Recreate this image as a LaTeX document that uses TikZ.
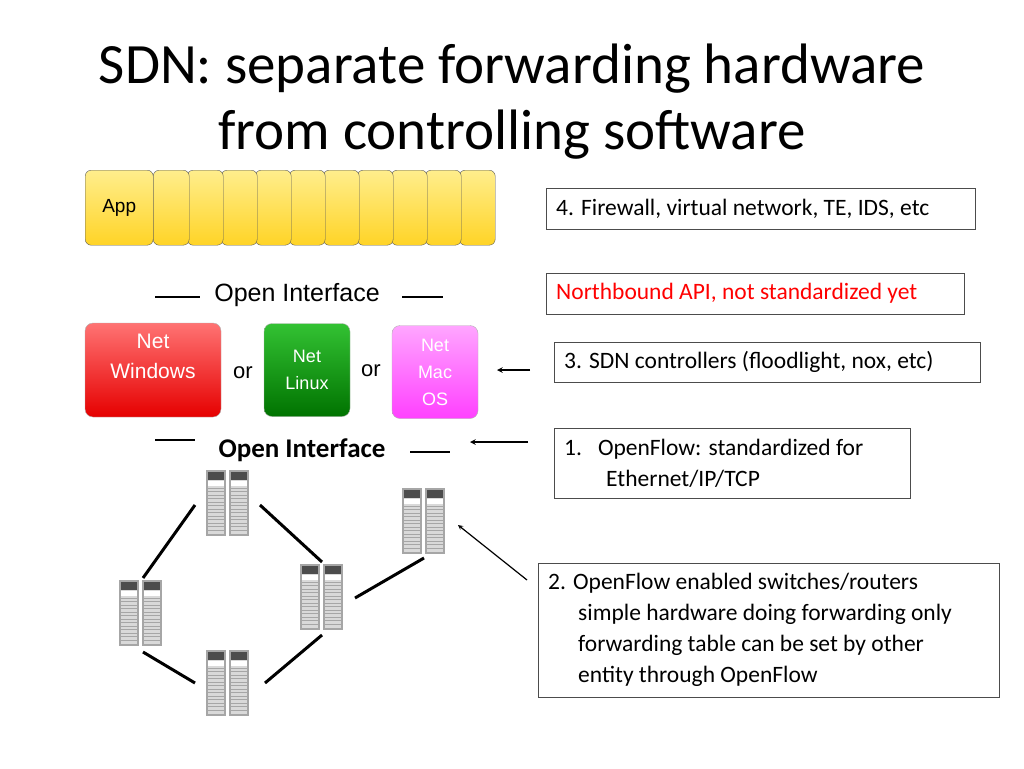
\documentclass[tikz,border=0pt]{standalone}
\usepackage{fontspec}
\setmainfont{Carlito}
\newfontfamily\arialf{Liberation Sans}
\begin{document}
\begin{tikzpicture}[x=1pt,y=-1pt,
  app/.style={draw=gray!70!black,rounded corners=6pt,top color=yellow!70!orange!45,bottom color=yellow!60!orange!85,minimum height=75pt,anchor=north west,inner sep=0pt},
  net/.style={draw=gray!60,rounded corners=8pt,align=center,text=white,inner sep=0pt,font=\fontsize{20}{26}\selectfont\arialf},
  tbox/.style={draw=black!70,anchor=north west,inner xsep=10pt,inner ysep=0pt,font=\fontsize{23.5}{31}\selectfont,align=flush left},
  link/.style={line width=3pt},
  ar/.style={line width=1.5pt,-stealth}]
\useasboundingbox (0,0) rectangle (1024,768);
\node[font=\fontsize{57}{66}\selectfont,align=center] (title) at (512,102) {SDN: separate forwarding hardware\\from controlling software};
% app stack
\foreach \i in {9,...,0}{
  \node[app,minimum width=36pt] (a\i) at ({459-34*(9-\i)},170) {};
}
\node[app,minimum width=68pt,font=\fontsize{19}{20}\selectfont\arialf] (app) at (85,170) {App};
% text boxes
\node[tbox,text width=409pt,minimum height=41pt] (b4) at (546,188) {4. Firewall, virtual network, TE, IDS, etc};
\node[tbox,text width=398pt,minimum height=41pt,text=red] (nb) at (546,273) {Northbound API, not standardized yet};
\node[tbox,text width=406pt,minimum height=40pt] (b3) at (554,342) {3. SDN controllers (floodlight, nox, etc)};
\node[tbox,text width=336pt,minimum height=70pt] (b1) at (554,428) {1.\hspace{16pt}OpenFlow: standardized for\\\hspace{42pt}Ethernet/IP/TCP};
\node[tbox,text width=441pt,minimum height=134pt] (b2) at (538,563) {2. OpenFlow enabled switches/routers\\\hspace{30pt}simple hardware doing forwarding only\\\hspace{30pt}forwarding table can be set by other\\\hspace{30pt}entity through OpenFlow};
% open interfaces
\node[font=\fontsize{25}{26}\selectfont\arialf] (oi1) at (297,295) {Open Interface};
\draw[line width=2pt] (155,297) coordinate (d1) -- (200,297) coordinate (d2);
\draw[line width=2pt] (402,297) coordinate (d3) -- (443,297) coordinate (d4);
\node[font=\fontsize{27}{28}\selectfont\bfseries] (oi2) at (302,450) {Open Interface};
\draw[line width=2pt] (155,440) coordinate (d5) -- (195,440) coordinate (d6);
\draw[line width=2pt] (410,452) coordinate (d7) -- (450,452) coordinate (d8);
% net OS boxes
\node[net,minimum width=136pt,minimum height=94pt,top color=red!55!white,bottom color=red!90!black] (win) at (153,370) {};
\node[font=\fontsize{21}{30}\selectfont\arialf,text=white,align=center] (wint) at (153,356) {Net\\Windows};
\node[net,minimum width=86pt,minimum height=93pt,top color=green!70!black!80,bottom color=green!45!black,font=\fontsize{18}{27}\selectfont\arialf] (lin) at (307,370) {Net\\Linux};
\node[net,minimum width=86pt,minimum height=93pt,top color=magenta!35,bottom color=magenta!75,font=\fontsize{18}{27}\selectfont\arialf] (mac) at (435,372) {Net\\Mac\\OS};
\node[font=\fontsize{22}{24}\selectfont\arialf] (or1) at (243,373) {or};
\node[font=\fontsize{22}{24}\selectfont\arialf] (or2) at (371,371) {or};
% arrows
\coordinate (s3) at (530,370); \coordinate (e3) at (497,370);
\draw[ar] (s3) -- (e3);
\coordinate (s1) at (528,442); \coordinate (e1) at (470,442);
\draw[ar] (s1) -- (e1);
% servers
\newcommand{\rackpair}[3]{%
 \begin{scope}[shift={(#2,#3)}]
  \foreach \dx in {-22,1}{
   \fill[gray!70] (\dx,-33) rectangle ++(20,66);
   \fill[gray!30] (\dx+2,-31) rectangle ++(16,62);
   \fill[gray!60!black] (\dx+2,-31) rectangle ++(16,8);
   \fill[white] (\dx+2,-22) rectangle ++(16,5);
   \foreach \k in {0,...,12} \draw[gray!70] (\dx+2,{-15+\k*3.5}) -- ++(16,0);
  }
  \node[minimum width=45pt,minimum height=66pt,inner sep=0pt] (#1) at (0,0) {};
 \end{scope}}
\rackpair{sT}{228}{503}
\rackpair{sL}{141}{613}
\rackpair{sM}{322}{597}
\rackpair{sB}{228}{683}
\rackpair{sR}{424}{521}
\draw[link] (195,505) -- (143,578);
\draw[link] (260,505) -- (322,562);
\draw[link] (143,652) -- (195,683);
\draw[link] (265,683) -- (322,635);
\draw[link] (355,598) -- (424,558);
\coordinate (s2) at (527,580);
\draw[line width=1.2pt,-stealth] (s2) -- (458,525);
\end{tikzpicture}
\end{document}
